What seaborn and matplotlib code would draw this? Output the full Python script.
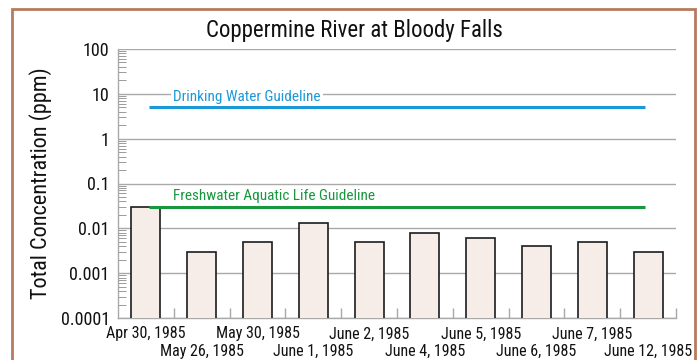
import matplotlib
matplotlib.use("Agg")
import matplotlib.pyplot as plt
from matplotlib import font_manager
from matplotlib.lines import Line2D
from matplotlib.ticker import FixedLocator, FixedFormatter, LogLocator, NullFormatter
import numpy as np
import pandas as pd
import seaborn as sns

# Sampling dates and measured total concentrations (ppm)
dates = ["Apr 30, 1985", "May 26, 1985", "May 30, 1985", "June 1, 1985",
         "June 2, 1985", "June 4, 1985", "June 5, 1985", "June 6, 1985",
         "June 7, 1985", "June 12, 1985"]
concentration = [0.03, 0.003, 0.005, 0.013, 0.005, 0.008, 0.006, 0.004, 0.005, 0.003]

# Guideline levels (ppm)
guideline_names = ["Drinking Water Guideline", "Freshwater Aquatic Life Guideline"]
guideline_values = [5.0, 0.03]
guideline_colors = ["#1b98d8", "#17983f"]

# Y axis decades
ytick_values = [0.0001, 0.001, 0.01, 0.1, 1, 10, 100]
ytick_labels = ["0.0001", "0.001", "0.01", "0.1", "1", "10", "100"]

sns.set_theme(style="white")

# Prefer a condensed sans-serif face
available = set(font_manager.fontManager.get_font_names())
condensed_faces = ["Roboto Condensed", "Liberation Sans Narrow", "Archivo Narrow",
                   "PT Sans Narrow", "Pragati Narrow", "Fira Sans Condensed",
                   "IBM Plex Sans Condensed", "Barlow Semi Condensed",
                   "Sofia Sans Condensed", "Encode Sans Condensed",
                   "Asap Condensed", "Open Sans Condensed", "Liberation Sans"]
chosen = next((f for f in condensed_faces if f in available), "DejaVu Sans")
plt.rcParams["font.family"] = [chosen, "DejaVu Sans"]

W, H = 699, 360
fig = plt.figure(figsize=(W / 100, H / 100), dpi=100)
fig.patch.set_facecolor("white")

left, right, top, bottom = 118, 676, 49, 318
ax = fig.add_axes([left / W, 1 - bottom / H, (right - left) / W, (bottom - top) / H])

df = pd.DataFrame({"date": dates, "ppm": concentration})
sns.barplot(data=df, x="date", y="ppm", ax=ax, color="#f6ede8",
            edgecolor="#1c1c1c", linewidth=1.2, width=0.52, saturation=1,
            zorder=3)

ax.set_yscale("log")
ax.set_ylim(1e-4, 100)
ax.set_xlim(-0.5, len(dates) - 0.5)

# Y ticks: labelled decades, short inward minor ticks
ax.yaxis.set_major_locator(FixedLocator(ytick_values))
ax.yaxis.set_major_formatter(FixedFormatter(ytick_labels))
ax.yaxis.set_minor_locator(LogLocator(base=10, subs=np.arange(2, 10)))
ax.yaxis.set_minor_formatter(NullFormatter())
ax.tick_params(axis="y", which="major", length=0, pad=6, labelsize=13,
               labelcolor="#111111")
ax.tick_params(axis="y", which="minor", direction="in", length=6,
               width=0.7, color="#9a9a9a", left=True)

# X ticks: first row carries even-numbered dates, a second axis the odd ones
label_size = 11.5
even_idx = list(range(0, len(dates), 2))
odd_idx = list(range(1, len(dates), 2))
ax.set_xticks(even_idx)
ax.set_xticklabels([dates[i] for i in even_idx])
ax.tick_params(axis="x", which="major", length=0, pad=6, labelsize=label_size,
               labelcolor="#111111")
ax.set_xticks(np.arange(0.5, len(dates) + 0.5, 1.0), minor=True)
ax.tick_params(axis="x", which="minor", direction="in", length=7,
               width=1.0, color="#a8a8a8", bottom=True)

row2 = ax.secondary_xaxis("bottom")
row2.set_xticks(odd_idx)
row2.set_xticklabels([dates[i] for i in odd_idx])
row2.tick_params(axis="x", length=0, pad=18.5, labelsize=label_size,
                 labelcolor="#111111")
row2.spines["bottom"].set_visible(False)

ax.grid(True, axis="y", which="major", color="#a9a9a9", linewidth=1.0, zorder=0)
ax.set_axisbelow(True)

for side in ["top", "right"]:
    ax.spines[side].set_visible(False)
for side in ["left", "bottom"]:
    ax.spines[side].set_color("#a9a9a9")
    ax.spines[side].set_linewidth(1.0)

ax.set_xlabel("")
ax.set_ylabel("Total Concentration (ppm)", fontsize=16, color="#111111",
              labelpad=6)

# Guideline lines with their labels just above
for name, val, col in zip(guideline_names, guideline_values, guideline_colors):
    ax.hlines(val, 0.06, 8.94, colors=col, linewidth=2.2, zorder=4)
    txt = ax.annotate(name, xy=(0.49, val), xytext=(0, 4.8),
                      textcoords="offset points", ha="left", va="baseline",
                      color=col, fontsize=11, zorder=5)
    if val > 1:
        txt.set_bbox(dict(facecolor="white", edgecolor="none", pad=1.5))

fig.text(354 / W, 1 - 37 / H, "Coppermine River at Bloody Falls",
         ha="center", va="baseline", fontsize=16.5, color="#111111")

# Brown frame open at the bottom
frame_col = "#b67b5e"
fx0, fx1, fy0 = 12 / W, 695 / W, 1 - 9 / H
fig.add_artist(Line2D([fx0, fx0, fx1, fx1], [-0.05, fy0, fy0, -0.05],
                      transform=fig.transFigure, color=frame_col,
                      linewidth=2.0, solid_joinstyle="miter"))

fig.savefig("out.png", dpi=100)
